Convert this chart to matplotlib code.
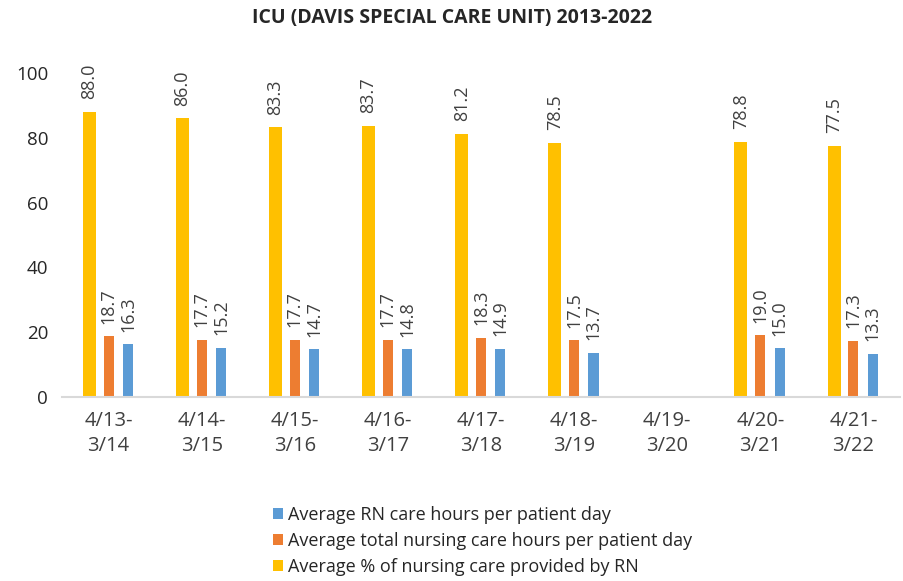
import numpy as np
import matplotlib.pyplot as plt

# --- data ---
periods = ["4/13-\n3/14", "4/14-\n3/15", "4/15-\n3/16", "4/16-\n3/17", "4/17-\n3/18",
           "4/18-\n3/19", "4/19-\n3/20", "4/20-\n3/21", "4/21-\n3/22"]
pct_rn = [88.0, 86.0, 83.3, 83.7, 81.2, 78.5, np.nan, 78.8, 77.5]
total_hours = [18.7, 17.7, 17.7, 17.7, 18.3, 17.5, np.nan, 19.0, 17.3]
rn_hours = [16.3, 15.2, 14.7, 14.8, 14.9, 13.7, np.nan, 15.0, 13.3]

label_rn = "Average RN care hours per patient day"
label_total = "Average total nursing care hours per patient day"
label_pct = "Average % of nursing care provided by RN"

c_yellow = "#FFC000"
c_orange = "#ED7D31"
c_blue = "#5B9BD5"
txt = "#404040"

plt.rcParams['font.family'] = ['Open Sans', 'DejaVu Sans']

fig = plt.figure(figsize=(9.04, 5.81), dpi=100)
ax = fig.add_axes([62 / 904, 1 - 397 / 581, 838 / 904, 324 / 581])

x = np.arange(len(periods))
off = 0.208
b_pct = ax.bar(x - off, pct_rn, width=0.14, color=c_yellow, label=label_pct)
b_tot = ax.bar(x, total_hours, width=0.108, color=c_orange, label=label_total)
b_rn = ax.bar(x + off, rn_hours, width=0.108, color=c_blue, label=label_rn)

for bars, vals in [(b_pct, pct_rn), (b_tot, total_hours), (b_rn, rn_hours)]:
    for b, v in zip(bars, vals):
        if np.isnan(v):
            continue
        ax.annotate(f"{v:.1f}", (b.get_x() + b.get_width() / 2, v),
                    xytext=(0, 9), textcoords="offset points",
                    rotation=90, ha="center", va="bottom",
                    fontsize=13, color=txt, annotation_clip=False)

ax.set_xlim(-0.5, len(periods) - 0.5)
ax.set_ylim(0, 100)
ax.set_yticks([0, 20, 40, 60, 80, 100])
ax.set_xticks(x)
ax.set_xticklabels(periods, fontsize=14.5, color=txt, linespacing=1.35)
ax.tick_params(axis="y", length=0, labelsize=13.5, labelcolor="#262626", pad=10)
ax.tick_params(axis="x", length=0, pad=10)
for s in ["top", "right", "left"]:
    ax.spines[s].set_visible(False)
ax.spines["bottom"].set_color("#D9D9D9")
ax.spines["bottom"].set_linewidth(1.5)

fig.text(0.5, 1 - 18 / 581, "ICU (DAVIS SPECIAL CARE UNIT) 2013-2022",
         ha="center", va="center", fontsize=14, fontweight="bold", color="#262626")

handles = [b_rn, b_tot, b_pct]
fig.legend(handles, [label_rn, label_total, label_pct], loc="upper left",
           bbox_to_anchor=(262 / 904, 1 - 495 / 581), frameon=False, fontsize=13,
           handlelength=0.55, handleheight=0.55, handletextpad=0.3,
           labelspacing=0.45, labelcolor="#262626", borderaxespad=0.2)

fig.savefig("out.png", dpi=100)
